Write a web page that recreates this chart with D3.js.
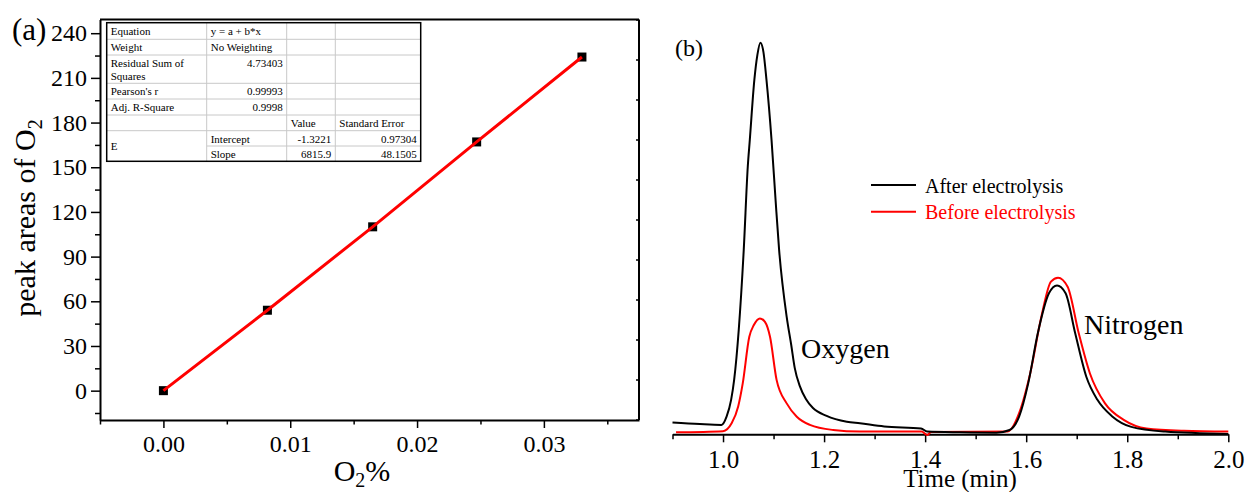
<!DOCTYPE html>
<html>
<head>
<meta charset="utf-8">
<script src="https://cdn.jsdelivr.net/npm/d3@7"></script>
<style>
  body { margin: 0; background: #fff; }
  svg { display: block; }
  svg text { font-family: "Liberation Serif", "Times New Roman", serif; }
</style>
</head>
<body>
<svg width="1247" height="492" font-family="Liberation Serif"></svg>
<script>
// (a) calibration points
const o2Percent = [0, 0.0082, 0.0165, 0.0247, 0.033];
const peakArea = [0, 54, 110, 167, 224];
const fitIntercept = -1.3221;
const fitSlope = 6815.9;
const yTicksA = [0, 30, 60, 90, 120, 150, 180, 210, 240];
const xTicksA = [0, 0.01, 0.02, 0.03];

// fit table text
const tableRows = [
  ["Equation", "y = a + b*x", "", ""],
  ["Weight", "No Weighting", "", ""],
  ["Residual Sum of\nSquares", "4.73403", "", ""],
  ["Pearson's r", "0.99993", "", ""],
  ["Adj. R-Square", "0.9998", "", ""],
  ["", "", "Value", "Standard Error"],
  ["E", "Intercept", "-1.3221", "0.97304"],
  ["", "Slope", "6815.9", "48.1505"]
];

// (b) chromatograms
const afterTime = [0.900, 0.954, 0.997, 1.007, 1.016, 1.022, 1.041, 1.049, 1.053, 1.062, 1.068, 1.074,
  1.080, 1.086, 1.096, 1.104, 1.111, 1.126, 1.135, 1.142, 1.152, 1.164, 1.178, 1.205, 1.245, 1.271, 1.319,
  1.392, 1.404, 1.469, 1.541, 1.567, 1.586, 1.604, 1.623, 1.645, 1.661, 1.678, 1.697, 1.719, 1.741,
  1.771, 1.808, 1.875, 2.000];
const afterSignal = [3.0, 2.6, 2.4, 4.5, 8.8, 13.9, 47.1, 68.4, 75.2, 90.5, 96.9, 100,
  97.6, 90.5, 75.2, 59.8, 47.1, 30.0, 22.8, 16.9, 12.3, 9.0, 6.7, 4.7, 3.2, 2.8, 2.0,
  1.5, 0.7, 0.5, 0.4, 1.1, 4.5, 13.0, 25.8, 36.0, 38.0, 36.0, 25.8, 14.7, 8.8,
  4.5, 1.9, 0.7, 0.1];
const beforeTime = [0.907, 1.000, 1.017, 1.030, 1.039, 1.052, 1.061, 1.073, 1.083, 1.093, 1.106, 1.126,
  1.146, 1.172, 1.218, 1.271, 1.393, 1.404, 1.412, 1.563, 1.586, 1.608, 1.630, 1.649, 1.663, 1.682,
  1.704, 1.726, 1.756, 1.793, 1.838, 1.912, 2.000];
const beforeSignal = [0.5, 0.8, 2.8, 7.1, 13.0, 24.9, 27.9, 29.6, 28.7, 24.9, 13.9, 7.9,
  4.5, 2.4, 1.1, 0.7, 0.7, -0.2, 0.6, 0.7, 5.4, 15.6, 30.0, 39.0, 40.0, 37.7,
  25.8, 15.6, 7.9, 3.7, 1.5, 0.9, 0.7];
const xTicksB = [1.0, 1.2, 1.4, 1.6, 1.8, 2.0];
const seriesNames = ["After electrolysis", "Before electrolysis"];

const svg = d3.select("svg");
const serif = "Liberation Serif";

// ---------- panel (a) ----------
const xA = d3.scaleLinear().domain([-0.005, 0.0375]).range([100, 639]);
const yA = d3.scaleLinear().domain([-19.7, 249.2]).range([420, 19.5]);

const gA = svg.append("g");

// frame top/right
gA.append("line").attr("x1", 100).attr("x2", 639).attr("y1", 19.5).attr("y2", 19.5)
  .attr("stroke", "#000").attr("stroke-width", 2);
gA.append("line").attr("x1", 639).attr("x2", 639).attr("y1", 19.5).attr("y2", 420)
  .attr("stroke", "#000").attr("stroke-width", 2);
const yRight = d3.scaleLinear().domain([0, 10]).range([419.5, 19.5]);
gA.append("g").attr("transform", "translate(639,0)")
  .call(d3.axisLeft(yRight).ticks(10).tickSize(3).tickSizeOuter(0).tickFormat(""))
  .call(g => g.select(".domain").remove())
  .call(g => g.selectAll("line").attr("stroke-width", 1.5));

// minor ticks
gA.append("g").attr("transform", "translate(0,420)")
  .call(d3.axisBottom(xA).tickValues(d3.range(-0.005, 0.036, 0.01)).tickSize(4.5).tickFormat(""))
  .call(g => g.select(".domain").remove())
  .call(g => g.selectAll("line").attr("stroke-width", 1.5));
gA.append("g").attr("transform", "translate(100,0)")
  .call(d3.axisLeft(yA).tickValues(d3.range(-15, 240, 30)).tickSize(5).tickFormat(""))
  .call(g => g.select(".domain").remove())
  .call(g => g.selectAll("line").attr("stroke-width", 1.5));

const axA = gA.append("g").attr("transform", "translate(0,420)")
  .call(d3.axisBottom(xA).tickValues(xTicksA).tickSize(8).tickSizeOuter(0).tickPadding(7).tickFormat(d3.format(".2f")));
const ayA = gA.append("g").attr("transform", "translate(100,0)")
  .call(d3.axisLeft(yA).tickValues(yTicksA).tickSize(9).tickSizeOuter(0).tickPadding(4));
[axA, ayA].forEach(a => {
  a.attr("font-family", serif);
  a.select(".domain").attr("stroke-width", 2);
  a.selectAll(".tick line").attr("stroke-width", 1.5);
  a.selectAll("text").attr("font-family", serif).attr("font-size", 24).attr("fill", "#000");
});

// points and fit line
gA.selectAll("rect.pt").data(o2Percent).enter().append("rect")
  .attr("class", "pt")
  .attr("x", d => xA(d) - 4.5).attr("y", (d, i) => yA(peakArea[i]) - 4.5)
  .attr("width", 9).attr("height", 9).attr("fill", "#000");
gA.append("path")
  .datum(o2Percent)
  .attr("fill", "none").attr("stroke", "#ff0000").attr("stroke-width", 3)
  .attr("d", d3.line().x(d => xA(d)).y((d, i) => yA(peakArea[i])));

// labels
gA.append("text").attr("x", 12).attr("y", 40).attr("font-family", serif).attr("font-size", 31).text("(a)");
const yl = gA.append("text").attr("transform", "translate(35,218) rotate(-90)")
  .attr("text-anchor", "middle").attr("font-family", serif).attr("font-size", 30);
yl.append("tspan").text("peak areas of O");
yl.append("tspan").attr("font-size", 20).attr("dy", 7).text("2");
const xl = gA.append("text").attr("x", 362).attr("y", 481).attr("text-anchor", "middle")
  .attr("font-family", serif).attr("font-size", 30);
xl.append("tspan").text("O");
xl.append("tspan").attr("font-size", 20).attr("dy", 6).text("2");
xl.append("tspan").attr("dy", -6).text("%");

// table
const colX = [106.7, 206.7, 286.7, 335.3, 420.7];
const rowY = [22.7, 39.3, 55, 83.3, 99, 115, 130.7, 146, 161.3];
const tbl = gA.append("g").attr("font-family", serif).attr("font-size", 11);
tbl.append("rect").attr("x", colX[0]).attr("y", rowY[0])
  .attr("width", colX[4] - colX[0]).attr("height", rowY[8] - rowY[0]).attr("fill", "#fff");
rowY.slice(1, -1).forEach((y, i) => {
  const x0 = (i + 1 === 7) ? colX[1] : colX[0];
  tbl.append("line").attr("x1", x0).attr("x2", colX[4]).attr("y1", y).attr("y2", y)
    .attr("stroke", "#c8c8c8").attr("stroke-width", 1);
});
colX.slice(1, -1).forEach(x => {
  tbl.append("line").attr("x1", x).attr("x2", x).attr("y1", rowY[0]).attr("y2", rowY[8])
    .attr("stroke", "#c8c8c8").attr("stroke-width", 1);
});
tbl.append("rect").attr("x", colX[0]).attr("y", rowY[0])
  .attr("width", colX[4] - colX[0]).attr("height", rowY[8] - rowY[0])
  .attr("fill", "none").attr("stroke", "#000").attr("stroke-width", 1.5);
const isNum = s => /^-?[\d.]+$/.test(s);
tableRows.forEach((row, r) => {
  row.forEach((cell, c) => {
    if (!cell) return;
    const t = tbl.append("text").attr("font-family", serif);
    if (r === 6 && c === 0) {
      t.attr("x", colX[0] + 4).attr("y", (rowY[6] + rowY[8]) / 2 + 4).text(cell);
      return;
    }
    const num = isNum(cell);
    t.attr("x", num ? colX[c + 1] - 4 : colX[c] + 4).attr("text-anchor", num ? "end" : "start");
    cell.split("\n").forEach((ln, k) => {
      t.append("tspan").attr("x", num ? colX[c + 1] - 4 : colX[c] + 4)
        .attr("y", rowY[r] + 12 + k * 13).text(ln);
    });
  });
});

// ---------- panel (b) ----------
const xB = d3.scaleLinear().domain([0.9, 2.0]).range([672.5, 1228.3]);
const yB = d3.scaleLinear().domain([0, 100]).range([434.3, 42.7]);
const gB = svg.append("g").attr("font-family", serif);

gB.append("g").attr("transform", "translate(0,434.3)")
  .call(d3.axisBottom(xB).tickValues(d3.range(0.9, 2.0, 0.2)).tickSize(5).tickFormat(""))
  .call(g => g.select(".domain").remove())
  .call(g => g.selectAll("line").attr("stroke-width", 1.5));
const axB = gB.append("g").attr("transform", "translate(0,434.3)")
  .call(d3.axisBottom(xB).tickValues(xTicksB).tickSize(8).tickSizeOuter(0).tickPadding(8).tickFormat(d3.format(".1f")));
axB.attr("font-family", serif);
axB.select(".domain").attr("stroke-width", 2);
axB.selectAll(".tick line").attr("stroke-width", 1.5);
axB.selectAll("text").attr("font-family", serif).attr("font-size", 25).attr("fill", "#000");

const lineB = d3.line().curve(d3.curveMonotoneX);
gB.append("path")
  .attr("d", lineB(beforeTime.map((t, i) => [xB(t), yB(beforeSignal[i])])))
  .attr("fill", "none").attr("stroke", "#ff0000").attr("stroke-width", 2);
gB.append("path")
  .attr("d", lineB(afterTime.map((t, i) => [xB(t), yB(afterSignal[i])])))
  .attr("fill", "none").attr("stroke", "#000").attr("stroke-width", 2);

// legend
const legColors = ["#000", "#ff0000"];
seriesNames.forEach((name, i) => {
  const y = 185 + i * 26.7;
  gB.append("line").attr("x1", 871).attr("x2", 916).attr("y1", y).attr("y2", y)
    .attr("stroke", legColors[i]).attr("stroke-width", 2);
  gB.append("text").attr("x", 925).attr("y", y + 7.5).attr("font-family", serif).attr("font-size", 20)
    .attr("fill", legColors[i]).text(name);
});

gB.append("text").attr("x", 675).attr("y", 56).attr("font-family", serif).attr("font-size", 24).text("(b)");
gB.append("text").attr("x", 801).attr("y", 358).attr("font-family", serif).attr("font-size", 28).text("Oxygen");
gB.append("text").attr("x", 1084).attr("y", 334).attr("font-family", serif).attr("font-size", 28).text("Nitrogen");
gB.append("text").attr("x", 960).attr("y", 487).attr("text-anchor", "middle").attr("font-family", serif)
  .attr("font-size", 25).text("Time (min)");
</script>
</body>
</html>
